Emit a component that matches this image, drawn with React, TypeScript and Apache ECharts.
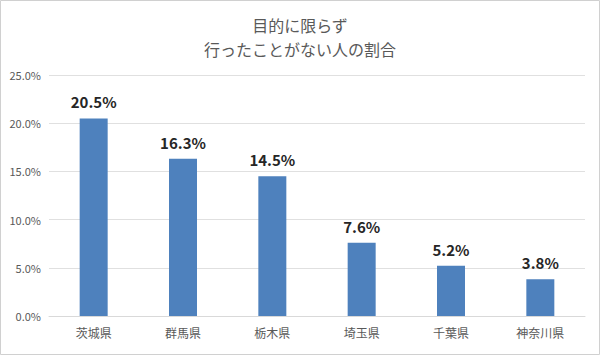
import React, { useEffect, useRef } from "react";
import * as echarts from "echarts";

const titleLines = ["目的に限らず", "行ったことがない人の割合"];
const categories = ["茨城県", "群馬県", "栃木県", "埼玉県", "千葉県", "神奈川県"];
const values = [20.5, 16.3, 14.5, 7.6, 5.2, 3.8];

export default function App() {
  const ref = useRef<HTMLDivElement>(null);
  useEffect(() => {
    document.body.style.margin = "0";
    const chart = echarts.init(ref.current!, undefined, { renderer: "svg" });
    chart.setOption({
      animation: false,
      backgroundColor: "#ffffff",
      title: {
        text: titleLines.join("\n"),
        left: "center",
        top: 8,
        textStyle: {
          fontFamily: "Noto Sans CJK JP",
          fontSize: 16,
          fontWeight: "normal",
          color: "#595959",
          lineHeight: 24,
        },
      },
      graphic: [
        {
          type: "rect",
          shape: { x: 0.5, y: 0.5, width: 599, height: 354 },
          style: { fill: "none", stroke: "#d0d0d0", lineWidth: 1 },
          silent: true,
        },
      ],
      grid: { left: 49, right: 15, top: 75, bottom: 39 },
      xAxis: {
        type: "category",
        data: categories,
        axisLine: { lineStyle: { color: "#d9d9d9" } },
        axisTick: { show: false },
        axisLabel: {
          fontFamily: "Noto Sans CJK JP",
          fontSize: 12,
          color: "#595959",
          margin: 10,
        },
      },
      yAxis: {
        type: "value",
        min: 0,
        max: 25,
        interval: 5,
        axisLine: { show: false },
        axisTick: { show: false },
        splitLine: { lineStyle: { color: "#e0e0e0" } },
        axisLabel: {
          formatter: (v: number) => v.toFixed(1) + "%",
          fontFamily: "Noto Sans CJK JP",
          fontSize: 11,
          color: "#595959",
          margin: 8,
        },
      },
      series: [
        {
          type: "bar",
          data: values,
          barWidth: 28,
          itemStyle: { color: "#4e81bd" },
          label: {
            show: true,
            position: "top",
            distance: 9,
            formatter: (p: any) => p.value.toFixed(1) + "%",
            fontFamily: "Noto Sans CJK JP",
            fontSize: 15,
            fontWeight: "bold",
            color: "#262626",
          },
        },
      ],
    });
    return () => chart.dispose();
  }, []);
  return (
    <div
      ref={ref}
      style={{ position: "absolute", left: 0, top: 0, width: 600, height: 355 }}
    />
  );
}
